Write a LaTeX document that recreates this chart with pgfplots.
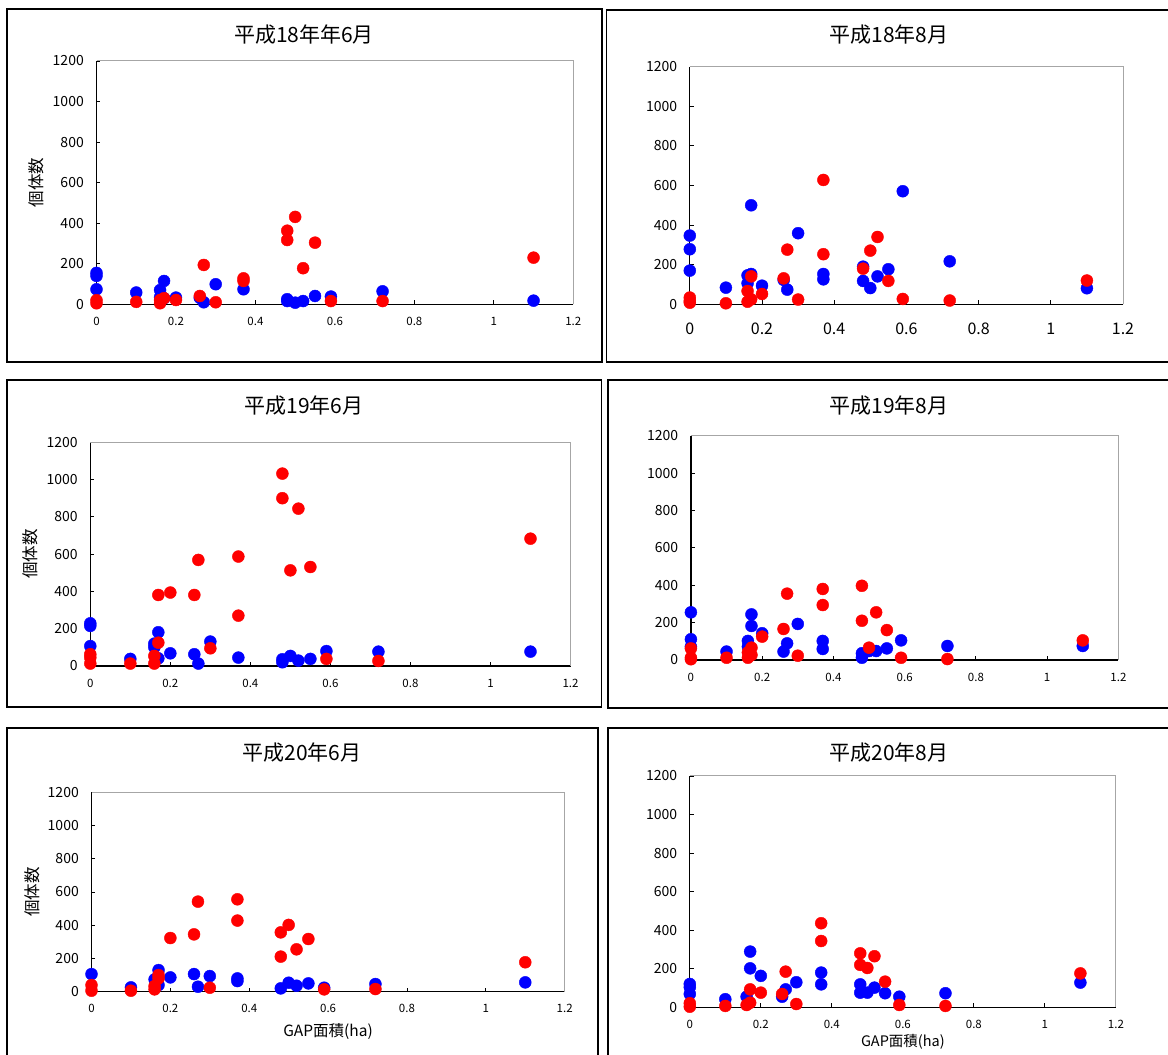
\documentclass[border=0pt]{standalone}
\usepackage{fontspec}
\setmainfont{Noto Sans CJK JP}
\usepackage{pgfplots}
\pgfplotsset{compat=1.18}
\definecolor{xlblue}{RGB}{0,0,255}
\definecolor{xlred}{RGB}{255,0,0}
\pgfplotsset{
  panel/.style={
    scale only axis,
    xmin=0,xmax=1.2,ymin=0,ymax=1200,
    xtick={0,0.2,0.4,0.6,0.8,1,1.2},
    ytick={0,200,400,600,800,1000,1200},
    axis x line=bottom, axis y line=left,
    axis line style={-, black, line width=1.2pt},
    tick align=inside, major tick length=4pt,
    tick style={black, line width=0.9pt},
    clip=false,
    /pgf/number format/assume math mode=true,
    /pgf/number format/1000 sep={},
    yticklabel style={font=\fontsize{14}{14}\selectfont, anchor=east, inner sep=0pt, xshift=-12.5pt},
    xticklabel style={font=\fontsize{11.5}{12}\selectfont, anchor=center, inner sep=0pt, yshift=-17pt},
    every axis y label/.style={at={(axis description cs:-0.126,0.5)}, anchor=center, rotate=90, font=\fontsize{16.5}{17}\selectfont},
    every axis x label/.style={anchor=center, font=\fontsize{15.5}{16}\selectfont},
  },
  bl/.style={only marks, mark=*, mark size=6pt, color=xlblue},
  rd/.style={only marks, mark=*, mark size=6pt, color=xlred},
}
\newcommand{\plotframe}{\draw[gray!70, line width=1pt] (rel axis cs:0,1) -- (rel axis cs:1,1) -- (rel axis cs:1,0);}
\begin{document}
\begin{tikzpicture}[x=1pt,y=1pt]
% panel boxes
\draw[line width=1.3pt] (7,1046) rectangle (602,693);
\draw[line width=1.3pt] (606.5,1045) rectangle (1185,693);
\draw[line width=1.3pt] (7,675) rectangle (601.5,348);
\draw[line width=1.3pt] (608,675) rectangle (1185,347);
\draw[line width=1.3pt] (7,327) rectangle (598,-20);
\draw[line width=1.3pt] (608,327) rectangle (1185,-20);
% titles
\node[font=\fontsize{21}{21}\selectfont] at (304,1020) {平成18年年6月};
\node[font=\fontsize{21}{21}\selectfont] at (889,1020) {平成18年8月};
\node[font=\fontsize{21}{21}\selectfont] at (304,649) {平成19年6月};
\node[font=\fontsize{21}{21}\selectfont] at (889,649) {平成19年8月};
\node[font=\fontsize{21}{21}\selectfont] at (302,302) {平成20年6月};
\node[font=\fontsize{21}{21}\selectfont] at (889,302) {平成20年8月};

% P1
\begin{axis}[panel, at={(96.5pt,750.7pt)}, anchor=south west, width=476.8pt, height=243.3pt, ylabel={個体数}]
\plotframe
\addplot[bl] coordinates {(0,155)(0,140)(0,74)(0.1,58)(0.16,70)(0.16,35)(0.17,115)(0.17,30)(0.2,33)(0.26,32)(0.27,10)(0.3,99)(0.37,74)(0.48,25)(0.48,16)(0.5,8)(0.52,16)(0.55,41)(0.59,38)(0.72,64)(1.1,18)};
\addplot[rd] coordinates {(0,20)(0,5)(0.1,12)(0.16,21)(0.16,5)(0.17,30)(0.2,21)(0.26,41)(0.27,194)(0.3,10)(0.37,128)(0.37,115)(0.48,363)(0.48,317)(0.5,431)(0.52,178)(0.55,304)(0.59,16)(0.72,16)(1.1,230)};
\end{axis}

% P2
\begin{axis}[panel, at={(689.8pt,750.7pt)}, anchor=south west, width=433.2pt, height=237.6pt,
  xticklabel style={font=\fontsize{16}{16}\selectfont, yshift=-7.7pt}]
\plotframe
\addplot[bl] coordinates {(0,347)(0,278)(0,170)(0.1,84)(0.16,146)(0.16,106)(0.17,500)(0.17,153)(0.2,94)(0.26,123)(0.27,74)(0.3,359)(0.37,153)(0.37,126)(0.48,190)(0.48,118)(0.5,82)(0.52,141)(0.55,177)(0.59,571)(0.72,217)(1.1,81)};
\addplot[rd] coordinates {(0,34)(0,17)(0,8)(0.1,5)(0.16,67)(0.16,13)(0.17,141)(0.17,25)(0.2,52)(0.26,131)(0.27,276)(0.3,24)(0.37,628)(0.37,253)(0.48,180)(0.5,271)(0.52,340)(0.55,118)(0.59,27)(0.72,19)(1.1,120)};
\end{axis}

% P3
\begin{axis}[panel, at={(90.3pt,389pt)}, anchor=south west, width=480.2pt, height=223.7pt, ylabel={個体数}]
\plotframe
\addplot[bl] coordinates {(0,229)(0,215)(0,107)(0.1,38)(0.16,120)(0.16,100)(0.17,181)(0.17,41)(0.2,68)(0.26,63)(0.27,13)(0.3,131)(0.37,45)(0.48,36)(0.48,20)(0.5,54)(0.52,29)(0.55,38)(0.59,80)(0.72,77)(1.1,77)};
\addplot[rd] coordinates {(0,63)(0,45)(0,13)(0.1,13)(0.16,54)(0.16,13)(0.17,381)(0.17,125)(0.2,394)(0.26,381)(0.27,569)(0.3,95)(0.37,587)(0.37,270)(0.48,1032)(0.48,900)(0.5,513)(0.52,844)(0.55,531)(0.59,38)(0.72,27)(1.1,683)};
\end{axis}

% P4
\begin{axis}[panel, at={(690.9pt,395pt)}, anchor=south west, width=427.5pt, height=224.3pt]
\plotframe
\addplot[bl] coordinates {(0,255)(0,111)(0,71)(0.1,45)(0.16,102)(0.16,71)(0.17,244)(0.17,182)(0.2,143)(0.26,45)(0.27,89)(0.3,193)(0.37,102)(0.37,59)(0.48,36)(0.48,12)(0.5,48)(0.52,48)(0.55,62)(0.59,105)(0.72,75)(1.1,75)};
\addplot[rd] coordinates {(0,62)(0,12)(0,4)(0.1,12)(0.16,41)(0.16,12)(0.17,66)(0.17,27)(0.2,125)(0.26,166)(0.27,355)(0.3,23)(0.37,380)(0.37,294)(0.48,397)(0.48,210)(0.5,66)(0.52,255)(0.55,160)(0.59,12)(0.72,5)(1.1,105)};
\end{axis}

% P5
\begin{axis}[panel, at={(91.5pt,63.3pt)}, anchor=south west, width=473.2pt, height=199.4pt, ylabel={個体数},
  xlabel={GAP面積(ha)}, xlabel style={at={(axis description cs:0.5,-0.2006)}}]
\plotframe
\addplot[bl] coordinates {(0,106)(0.1,26)(0.16,74)(0.17,130)(0.17,40)(0.2,86)(0.26,106)(0.27,30)(0.3,94)(0.37,80)(0.37,64)(0.48,20)(0.5,54)(0.52,36)(0.55,50)(0.59,24)(0.72,46)(1.1,56)};
\addplot[rd] coordinates {(0,40)(0,6)(0.1,6)(0.16,34)(0.16,14)(0.17,100)(0.17,80)(0.2,323)(0.26,345)(0.27,542)(0.3,24)(0.37,556)(0.37,428)(0.48,357)(0.48,211)(0.5,402)(0.52,255)(0.55,317)(0.59,14)(0.72,16)(1.1,177)};
\end{axis}

% P6
\begin{axis}[panel, at={(689.8pt,47.7pt)}, anchor=south west, width=426.1pt, height=231.3pt,
  xlabel={GAP面積(ha)}, xlabel style={at={(axis description cs:0.5,-0.1487)}, font=\fontsize{14.5}{15}\selectfont}]
\plotframe
\addplot[bl] coordinates {(0,121)(0,104)(0,69)(0.1,42)(0.16,55)(0.17,289)(0.17,202)(0.2,163)(0.26,55)(0.27,93)(0.3,130)(0.37,180)(0.37,119)(0.48,119)(0.48,76)(0.5,76)(0.52,102)(0.55,73)(0.59,55)(0.72,73)(1.1,128)};
\addplot[rd] coordinates {(0,21)(0,3)(0.1,7)(0.16,12)(0.17,93)(0.17,24)(0.2,76)(0.26,69)(0.27,185)(0.3,17)(0.37,436)(0.37,344)(0.48,280)(0.48,220)(0.5,204)(0.52,265)(0.55,133)(0.59,12)(0.72,7)(1.1,176)};
\end{axis}

\pgfresetboundingbox
\useasboundingbox (0,0) rectangle (1168,1055);
\end{tikzpicture}
\end{document}
